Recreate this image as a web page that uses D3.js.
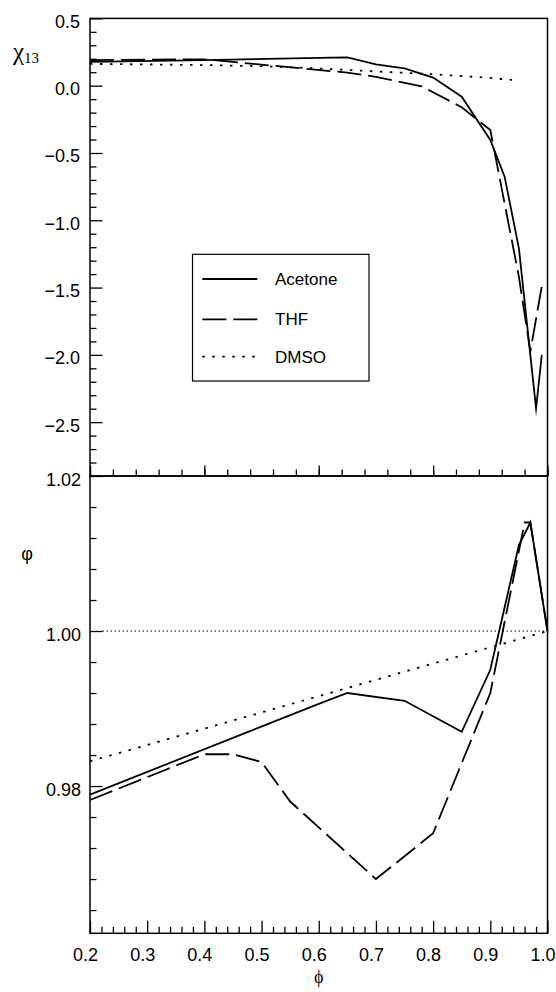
<!DOCTYPE html>
<html>
<head>
<meta charset="utf-8">
<script src="https://cdn.jsdelivr.net/npm/d3@7/dist/d3.min.js"></script>
<style>
  html, body { margin: 0; padding: 0; background: #fff; }
  svg { display: block; }
  text { font-family: "Liberation Sans", Arial, Helvetica, sans-serif; fill: #000; }
</style>
</head>
<body>
<svg id="chart" width="556" height="992"></svg>
<script>
// χ13 versus volume fraction (upper panel)
const chiAcetonePhi = [0.2, 0.4, 0.6, 0.65, 0.7, 0.75, 0.8, 0.85, 0.9, 0.925, 0.95, 0.98, 0.99];
const chiAcetone    = [0.177, 0.190, 0.207, 0.211, 0.159, 0.129, 0.060, -0.082, -0.403, -0.676, -1.208, -2.397, -2.0];

const chiTHFPhi = [0.2, 0.4, 0.65, 0.7, 0.78, 0.85, 0.9, 0.95, 0.97, 0.99];
const chiTHF    = [0.190, 0.196, 0.097, 0.066, -0.005, -0.160, -0.330, -1.420, -1.975, -1.490];

const chiDMSOPhi = [0.2, 0.3, 0.4, 0.5, 0.6, 0.7, 0.8, 0.9, 0.94];
const chiDMSO    = [0.162, 0.158, 0.153, 0.145, 0.128, 0.106, 0.085, 0.058, 0.042];

// φ versus volume fraction (lower panel)
const phiAcetoneX = [0.2, 0.6, 0.65, 0.75, 0.85, 0.9, 0.95, 0.97, 1.0];
const phiAcetone  = [0.9789, 0.9906, 0.9920, 0.9910, 0.9870, 0.9950, 1.0111, 1.0140, 1.0];

const phiTHFX = [0.2, 0.4, 0.45, 0.5, 0.55, 0.7, 0.8, 0.9, 0.96, 0.97, 1.0];
const phiTHF  = [0.9782, 0.9841, 0.9841, 0.9831, 0.9780, 0.9680, 0.9739, 0.9920, 1.0140, 1.0140, 1.0];

const phiDMSOX = [0.2, 1.0];
const phiDMSO  = [0.9832, 1.0];

// Axis ticks
const xMajorBottom = [0.2, 0.3, 0.4, 0.5, 0.6, 0.7, 0.8, 0.9, 1.0];
const xMinorBottom = d3.range(0, 41).map(i => +(0.2 + i * 0.02).toFixed(2));
const xMajorTop = [0.2, 0.4, 0.6, 0.8, 1.0];
const xMinorTop = d3.range(0, 21).map(i => +(0.2 + i * 0.04).toFixed(2));
const yMajorTop = [0.5, 0.0, -0.5, -1.0, -1.5, -2.0, -2.5];
const yMinorTop = d3.range(0, 34).map(i => +(0.5 - i * 0.1).toFixed(1));
const yMajorBottom = [1.02, 1.00, 0.98];
const yMinorBottom = d3.range(0, 15).map(i => +(1.02 - i * 0.004).toFixed(3));

const legendItems = [
  { name: "Acetone", dash: null },
  { name: "THF", dash: "24,7" },
  { name: "DMSO", dash: "2.5,7.5" }
];

const svg = d3.select("#chart");
const left = 90, right = 547.5;
const topY0 = 18.4, midY = 476, botY1 = 933.3;

const x = d3.scaleLinear().domain([0.2, 1.0]).range([left, right]);
const yTop = d3.scaleLinear().domain([-2.9, 0.5]).range([midY, topY0]);
const yBot = d3.scaleLinear().domain([0.961, 1.02]).range([botY1, midY]);

const majorLen = 12.5, minorLen = 6.5;
const fmt1 = d3.format(".1f"), fmt2 = d3.format(".2f");

function styleAxis(g) {
  g.select(".domain").remove();
  g.selectAll("line").attr("stroke", "#000").attr("stroke-width", 1.3);
  g.selectAll("text").style("font-size", "18px").attr("fill", "#000")
    .style("font-family", '"Liberation Sans", Arial, sans-serif');
}

// ---- upper panel axes ----
svg.append("g").attr("transform", `translate(${left},0)`)
  .call(d3.axisLeft(yTop).tickValues(yMinorTop.filter(v => !yMajorTop.some(m => Math.abs(m - v) < 1e-9)))
    .tickSizeInner(-minorLen).tickSizeOuter(0).tickFormat(""))
  .call(styleAxis);
svg.append("g").attr("transform", `translate(${left},0)`)
  .call(d3.axisLeft(yTop).tickValues(yMajorTop).tickSizeInner(-majorLen).tickSizeOuter(0)
    .tickPadding(10).tickFormat(fmt1))
  .call(styleAxis)
  .call(g => g.selectAll("text").attr("dy", "0.5em"));
svg.append("g").attr("transform", `translate(0,${midY})`)
  .call(d3.axisBottom(x).tickValues(xMinorTop).tickSizeInner(-minorLen).tickSizeOuter(0).tickFormat(""))
  .call(styleAxis);
svg.append("g").attr("transform", `translate(0,${midY})`)
  .call(d3.axisBottom(x).tickValues(xMajorTop).tickSizeInner(-majorLen + 2).tickSizeOuter(0).tickFormat(""))
  .call(styleAxis);

// ---- lower panel axes ----
svg.append("g").attr("transform", `translate(${left},0)`)
  .call(d3.axisLeft(yBot).tickValues(yMinorBottom.filter(v => !yMajorBottom.some(m => Math.abs(m - v) < 1e-9)))
    .tickSizeInner(-minorLen).tickSizeOuter(0).tickFormat(""))
  .call(styleAxis);
svg.append("g").attr("transform", `translate(${left},0)`)
  .call(d3.axisLeft(yBot).tickValues(yMajorBottom).tickSizeInner(-majorLen).tickSizeOuter(0)
    .tickPadding(9).tickFormat(fmt2))
  .call(styleAxis)
  .call(g => g.selectAll("text").attr("dy", "0.55em"));
svg.append("g").attr("transform", `translate(0,${botY1})`)
  .call(d3.axisBottom(x).tickValues(xMinorBottom.filter(v => !xMajorBottom.some(m => Math.abs(m - v) < 1e-9)))
    .tickSizeInner(-minorLen).tickSizeOuter(0).tickFormat(""))
  .call(styleAxis);
svg.append("g").attr("transform", `translate(0,${botY1})`)
  .call(d3.axisBottom(x).tickValues(xMajorBottom).tickSizeInner(-majorLen).tickSizeOuter(0)
    .tickPadding(10).tickFormat(fmt1))
  .call(styleAxis)
  .call(g => g.selectAll("text").attr("dy", "1.0em").attr("x", -5));

// ---- frames ----
svg.append("rect").attr("x", left).attr("y", topY0).attr("width", right - left).attr("height", midY - topY0)
  .attr("fill", "none").attr("stroke", "#000").attr("stroke-width", 1.5);
svg.append("rect").attr("x", left).attr("y", midY).attr("width", right - left).attr("height", botY1 - midY)
  .attr("fill", "none").attr("stroke", "#000").attr("stroke-width", 1.5);

// reference line φ = 1
svg.append("line")
  .attr("x1", x(0.2) + majorLen).attr("x2", x(1.0))
  .attr("y1", yBot(1.0)).attr("y2", yBot(1.0))
  .attr("stroke", "#000").attr("stroke-width", 1).attr("stroke-dasharray", "1.5,2.5");

// ---- curves ----
function drawSeries(xs, ys, yScale, dash) {
  const pts = xs.map((v, i) => [v, ys[i]]);
  const line = d3.line().x(d => x(d[0])).y(d => yScale(d[1]));
  svg.append("path").datum(pts)
    .attr("d", line)
    .attr("fill", "none").attr("stroke", "#000").attr("stroke-width", 1.8)
    .attr("stroke-miterlimit", 10)
    .attr("stroke-dasharray", dash);
}
drawSeries(chiAcetonePhi, chiAcetone, yTop, null);
drawSeries(chiTHFPhi, chiTHF, yTop, legendItems[1].dash);
drawSeries(chiDMSOPhi, chiDMSO, yTop, legendItems[2].dash);
drawSeries(phiAcetoneX, phiAcetone, yBot, null);
drawSeries(phiTHFX, phiTHF, yBot, legendItems[1].dash);
drawSeries(phiDMSOX, phiDMSO, yBot, legendItems[2].dash);

// ---- legend ----
const lg = svg.append("g");
lg.append("rect").attr("x", 192.5).attr("y", 254.3).attr("width", 176.5).attr("height", 126.7)
  .attr("fill", "#fff").attr("stroke", "#000").attr("stroke-width", 1.2);
const legendY = [279, 319.3, 356.7];
legendItems.forEach((it, i) => {
  lg.append("line").attr("x1", 202.3).attr("x2", 257.3).attr("y1", legendY[i]).attr("y2", legendY[i])
    .attr("stroke", "#000").attr("stroke-width", 1.8).attr("stroke-dasharray", it.dash);
  lg.append("text").attr("x", 275).attr("y", legendY[i]).attr("dy", "0.36em")
    .style("font-size", "17px").text(it.name);
});

// ---- axis titles ----
const chiLabel = svg.append("text").attr("x", 13).attr("y", 60)
  .style("font-family", '"Liberation Serif", "DejaVu Serif", serif');
chiLabel.append("tspan").style("font-size", "25px").text("χ");
chiLabel.append("tspan").attr("dy", 3).style("font-size", "15px").text("13");

svg.append("text").attr("x", 27).attr("y", 554).attr("dy", "0.35em").attr("text-anchor", "middle")
  .style("font-size", "18px").text("φ");

svg.append("text").attr("x", (left + right) / 2).attr("y", 977).attr("dy", "0.35em").attr("text-anchor", "middle")
  .style("font-family", '"Liberation Serif", "DejaVu Serif", serif')
  .style("font-size", "18px").text("ϕ");
</script>
</body>
</html>
